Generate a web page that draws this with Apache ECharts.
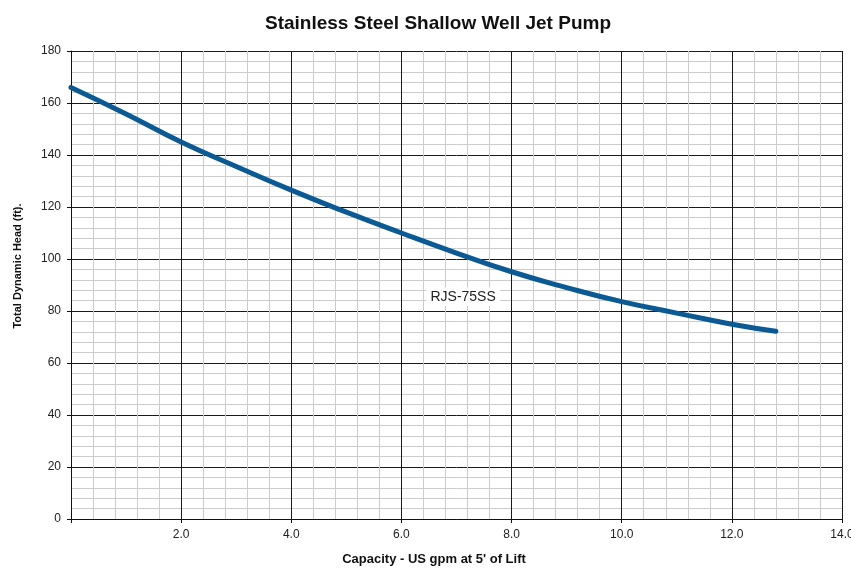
<!DOCTYPE html>
<html>
<head>
<meta charset="utf-8">
<script src="https://cdn.jsdelivr.net/npm/echarts@6/dist/echarts.min.js"></script>
<style>
html,body{margin:0;padding:0;background:#fff;}
#main{width:851px;height:569px;}
</style>
</head>
<body>
<div id="main"></div>
<script>
// capacity (US gpm) vs total dynamic head (ft)
var capacity = [0, 1, 2, 3, 4, 5, 6, 7, 8, 9, 10, 11, 12, 12.8];
var head = [166, 155.8, 145, 135.6, 126.5, 118, 110, 102.3, 95.1, 89, 83.6, 79.2, 74.9, 72.2];
var seriesName = 'RJS-75SS';
var labelAt = [7.12, 85.5];

var pts = [];
for (var i = 0; i < capacity.length; i++) {
    pts.push([capacity[i], head[i]]);
}

var fnt = '"Liberation Sans", Arial, sans-serif';

var myChart = echarts.init(document.getElementById('main'), null, {renderer: 'canvas'});
var option = {
    animation: false,
    title: {
        text: 'Stainless Steel Shallow Well Jet Pump',
        left: 433,
        top: 9,
        textAlign: 'center',
        textStyle: {fontFamily: fnt, fontSize: 19, fontWeight: 'bold', color: '#111'}
    },
    grid: {left: 71, right: 9, top: 51, bottom: 50, containLabel: false, outerBoundsMode: 'none'},
    xAxis: {
        type: 'value',
        min: 0, max: 14, interval: 2,
        name: "Capacity - US gpm at 5' of Lift",
        nameLocation: 'middle',
        nameGap: 34,
        nameTextStyle: {fontFamily: fnt, fontSize: 13, fontWeight: 'bold', color: '#111', padding: [0, 45, 0, 0]},
        axisLine: {lineStyle: {color: '#111', width: 1}},
        axisTick: {show: true, length: 4, lineStyle: {color: '#111'}},
        axisLabel: {
            fontFamily: fnt, fontSize: 12, color: '#222', margin: 10,
            formatter: function (v) { return v === 0 ? '' : v.toFixed(1); }
        },
        splitLine: {show: true, lineStyle: {color: '#1a1a1a', width: 1}},
        minorTick: {show: true, splitNumber: 5, length: 0},
        minorSplitLine: {show: true, lineStyle: {color: '#cccccc', width: 1}}
    },
    yAxis: {
        type: 'value',
        min: 0, max: 180, interval: 20,
        name: 'Total Dynamic Head (ft).',
        nameLocation: 'middle',
        nameGap: 48,
        nameTextStyle: {fontFamily: fnt, fontSize: 11, fontWeight: 'bold', color: '#111', padding: [0, 0, 0, 38]},
        axisLine: {show: true, lineStyle: {color: '#111', width: 1}},
        axisTick: {show: true, length: 4, lineStyle: {color: '#111'}},
        axisLabel: {fontFamily: fnt, fontSize: 12, color: '#222', margin: 10},
        splitLine: {show: true, lineStyle: {color: '#1a1a1a', width: 1}},
        minorTick: {show: true, splitNumber: 5, length: 0},
        minorSplitLine: {show: true, lineStyle: {color: '#cccccc', width: 1}}
    },
    series: [{
        name: seriesName,
        type: 'line',
        smooth: true,
        symbol: 'none',
        data: pts,
        lineStyle: {color: '#0b5a93', width: 5, cap: 'round'},
        markPoint: {
            symbol: 'rect',
            symbolSize: 0,
            label: {
                show: true,
                formatter: seriesName,
                fontFamily: fnt, fontSize: 14, color: '#222',
                backgroundColor: '#fff',
                padding: [2, 4]
            },
            data: [{coord: labelAt}]
        }
    }]
};
myChart.setOption(option, true);
</script>
</body>
</html>
